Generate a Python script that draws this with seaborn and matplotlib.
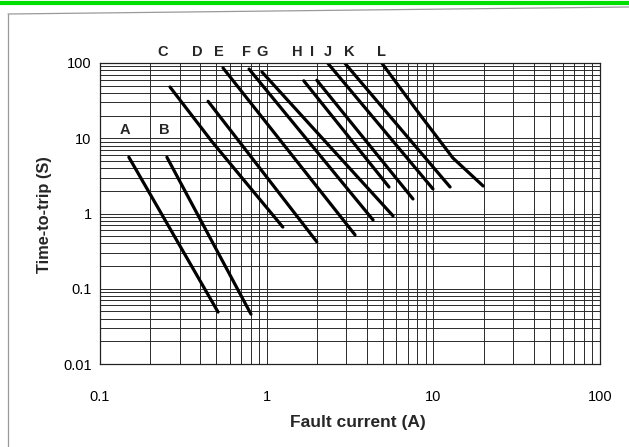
"""Time-to-trip vs fault current curves (log-log) for breaker types A-L."""

import matplotlib.pyplot as plt
import numpy as np
import pandas as pd
import seaborn as sns
from matplotlib.lines import Line2D

# curve data: fault current (A) and time-to-trip (s)
curve_names = ["A", "B", "C", "D", "E", "F", "G", "H", "I", "J", "K", "L"]
current_a = [0.149, 0.511]
time_a = [5.6, 0.049]
current_b = [0.252, 0.805]
time_b = [5.6, 0.046]
current_c = [0.263, 0.47, 1.25]
time_c = [48, 9.0, 0.66]
current_d = [0.445, 2.0]
time_d = [31, 0.42]
current_e = [0.547, 3.39]
time_e = [86, 0.52]
current_f = [0.784, 4.35]
time_f = [83, 0.82]
current_g = [0.937, 5.73]
time_g = [76, 0.93]
current_h = [1.67, 5.42]
time_h = [58, 2.25]
current_i = [2.0, 7.55]
time_i = [59, 1.56]
current_j = [2.33, 9.95]
time_j = [99, 2.12]
current_k = [2.95, 12.6]
time_k = [99, 2.25]
current_l = [4.92, 7.76, 13.1, 19.9]
time_l = [99, 25.2, 5.47, 2.32]

x_ticks = [0.1, 1, 10, 100]
x_tick_labels = ["0.1", "1", "10", "100"]
y_ticks = [0.01, 0.1, 1, 10, 100]
y_tick_labels = ["0.01", "0.1", "1", "10", "100"]

# where the curve letters sit (data coords)
label_x = [0.141, 0.242, 0.239, 0.382, 0.518, 0.762, 0.938, 1.52, 1.87, 2.33, 3.12, 4.92]
label_y = [12.9, 12.9, 140, 140, 140, 140, 140, 140, 140, 140, 140, 140]


def build_frame() -> pd.DataFrame:
    """Long table of all curves."""
    currents = [current_a, current_b, current_c, current_d, current_e, current_f,
                current_g, current_h, current_i, current_j, current_k, current_l]
    times = [time_a, time_b, time_c, time_d, time_e, time_f,
             time_g, time_h, time_i, time_j, time_k, time_l]
    rows = []
    for name, xs, ys in zip(curve_names, currents, times):
        for order, (x, y) in enumerate(zip(xs, ys)):
            rows.append({"curve": name, "order": order, "current": x, "time": y})
    return pd.DataFrame(rows)


sns.set_theme(style="white")
plt.rcParams["font.family"] = ["Liberation Sans", "DejaVu Sans"]

df = build_frame()

fig = plt.figure(figsize=(6.29, 4.47), dpi=100)
ax = fig.add_axes([100 / 629, 1 - 364 / 447, 500 / 629, 301 / 447])

sns.lineplot(
    data=df,
    x="current",
    y="time",
    units="curve",
    estimator=None,
    sort=False,
    color="black",
    lw=2.3,
    solid_capstyle="round",
    legend=False,
    ax=ax,
)

ax.set_xscale("log")
ax.set_yscale("log")
ax.set_xlim(0.1, 100)
ax.set_ylim(0.01, 100)
ax.set_xticks(x_ticks, x_tick_labels)
ax.set_yticks(y_ticks, y_tick_labels)
ax.xaxis.set_minor_formatter(plt.NullFormatter())
ax.yaxis.set_minor_formatter(plt.NullFormatter())
ax.tick_params(axis="both", which="both", length=0, labelsize=10.5, colors="black")
ax.tick_params(axis="x", pad=19)
ax.tick_params(axis="y", pad=6)
ax.grid(which="both", color="#2a2a2a", lw=0.7)
for spine in ax.spines.values():
    spine.set_color("#222222")
    spine.set_linewidth(0.9)

ax.set_xlabel("Fault current (A)", fontsize=12.5, fontweight="bold")
ax.set_ylabel("Time-to-trip (S)", fontsize=11.8, fontweight="bold")
ax.xaxis.label.set_va("center")
ax.xaxis.set_label_coords(0.516, -0.196)
ax.yaxis.label.set(va="center", ha="center")
ax.yaxis.set_label_coords(-0.112, 0.495)

for name, lx, ly in zip(curve_names, label_x, label_y):
    ax.text(lx, ly, name, ha="center", va="center", fontsize=10.5,
            fontweight="bold", clip_on=False)

# scanned page edge and top marker bar
fig.add_artist(Line2D([0, 1], [1 - 3 / 447, 1 - 3 / 447], color="#00e000", lw=3))
fig.add_artist(Line2D([8 / 629, 1], [1 - 14 / 447, 1 - 7 / 447], color="#9a9a9a", lw=0.9))
fig.add_artist(Line2D([8 / 629, 8 / 629], [0, 1 - 14 / 447], color="#9a9a9a", lw=0.9))

fig.savefig("out.png", dpi=100)
plt.close(fig)
